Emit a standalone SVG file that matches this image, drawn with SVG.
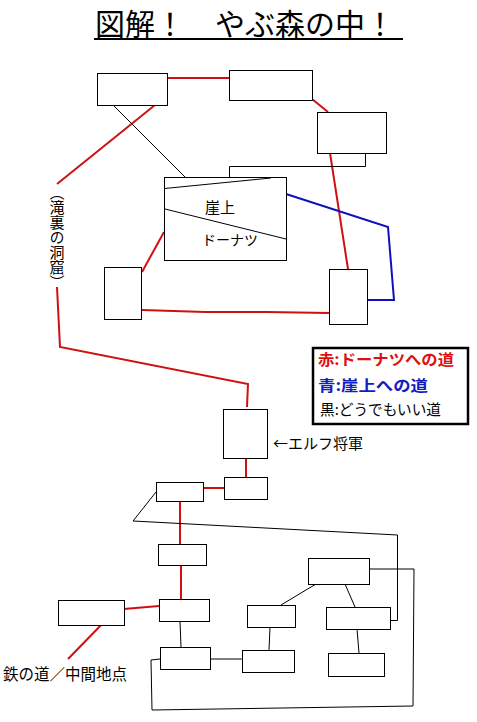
<svg xmlns="http://www.w3.org/2000/svg" width="477" height="722" viewBox="0 0 477 722">
<style>
.n{fill:#fff;stroke:#000;stroke-width:1}
.r{fill:none;stroke:#d01010;stroke-width:2}
.b{fill:none;stroke:#1010c0;stroke-width:2}
.k{fill:none;stroke:#000;stroke-width:1}
text{font-family:"Noto Sans CJK JP","Noto Sans",sans-serif}
</style>
<rect width="477" height="722" fill="#fff"/>
<text x="95" y="35" font-size="30">図解！　やぶ森の中！</text>
<line x1="94" y1="39" x2="403" y2="39" stroke="#000" stroke-width="2"/>
<g id="connectors">
<polyline class="r" points="167,78 229,78"/>
<polyline class="r" points="312,99 328,112"/>
<polyline class="r" points="155,105 57,184"/>
<polyline class="r" points="330,153 348,269"/>
<polyline class="r" points="164,232 142,272"/>
<polyline class="r" points="142,310 205,312 267,312 329,313"/>
<polyline class="r" points="57,287 60,347 248,384 247,407"/>
<polyline class="k" points="113,105 185,177"/>
<polyline class="k" points="365.5,153 365.5,166.5 229.5,166.5 229.5,177"/>
<polyline class="b" points="283,193 388,227 394,300 367,300"/>
<polyline class="r" points="246,458 246,477"/>
<polyline class="r" points="203,488 224,488"/>
<polyline class="r" points="180,501 180,544"/>
<polyline class="r" points="181,565 181,599"/>
<polyline class="r" points="124,609 159,606"/>
<polyline class="r" points="106,620 68,659"/>
<polyline class="k" points="156,492 133,521 397.5,535 397.5,620.5 390,620.5"/>
<polyline class="k" points="180,621 181,647"/>
<polyline class="k" points="210,659 242,659"/>
<polyline class="k" points="270,627 269,650"/>
<polyline class="k" points="316,584 281,605"/>
<polyline class="k" points="345,584 355,607"/>
<polyline class="k" points="357,629 359,653"/>
<polyline class="k" points="369,569 414,569 413,706 152,710 151,660 160,659"/>
</g>
<g id="n1"><rect class="n" x="97.5" y="73.5" width="70" height="32"/></g>
<g id="n2"><rect class="n" x="229.5" y="70.5" width="83" height="30"/></g>
<g id="n3"><rect class="n" x="317.5" y="112.5" width="69" height="41"/></g>
<g id="n4"><rect class="n" x="164.5" y="177.5" width="122" height="83"/>
<line class="k" x1="164.5" y1="188.5" x2="271" y2="178"/>
<line class="k" x1="165" y1="209" x2="286" y2="239"/>
<text x="205" y="213" font-size="15">崖上</text>
<text x="202" y="245" font-size="14">ドーナツ</text>
</g>
<g id="n5"><rect class="n" x="104.5" y="267.5" width="37" height="52"/></g>
<g id="n6"><rect class="n" x="329.5" y="269.5" width="38" height="55"/></g>
<g id="cave-label">
<text x="57" y="185" font-size="15" style="writing-mode:vertical-rl">（滝裏の洞窟）</text>
</g>
<g id="legend">
<rect x="313" y="348" width="155" height="76" fill="#fff" stroke="#000" stroke-width="2.5"/>
<text x="318" y="365" font-size="15" font-weight="bold" fill="#e01010" textLength="136" lengthAdjust="spacingAndGlyphs">赤:ドーナツへの道</text>
<text x="318" y="391" font-size="15" font-weight="bold" fill="#1020c0" textLength="110" lengthAdjust="spacingAndGlyphs">青:崖上への道</text>
<text x="320" y="415" font-size="15" fill="#000" textLength="121" lengthAdjust="spacingAndGlyphs">黒:どうでもいい道</text>
</g>
<g id="elf"><rect class="n" x="223.5" y="409.5" width="44" height="49"/>
<text x="273" y="449" font-size="15">←エルフ将軍</text></g>
<g id="nA"><rect class="n" x="224.5" y="477.5" width="43" height="22"/></g>
<g id="nB"><rect class="n" x="156.5" y="482.5" width="47" height="19"/></g>
<g id="nC"><rect class="n" x="158.5" y="544.5" width="48" height="21"/></g>
<g id="nD"><rect class="n" x="159.5" y="599.5" width="50" height="22"/></g>
<g id="nE"><rect class="n" x="58.5" y="600.5" width="66" height="25"/>
<text x="3" y="680" font-size="15.5">鉄の道／中間地点</text></g>
<g id="nF"><rect class="n" x="160.5" y="647.5" width="50" height="22"/></g>
<g id="nH"><rect class="n" x="242.5" y="650.5" width="52" height="22"/></g>
<g id="nI"><rect class="n" x="247.5" y="605.5" width="48" height="22"/></g>
<g id="nJ"><rect class="n" x="308.5" y="558.5" width="61" height="26"/></g>
<g id="nG"><rect class="n" x="326.5" y="607.5" width="64" height="22"/></g>
<g id="nK"><rect class="n" x="328.5" y="653.5" width="56" height="23"/></g>
</svg>
